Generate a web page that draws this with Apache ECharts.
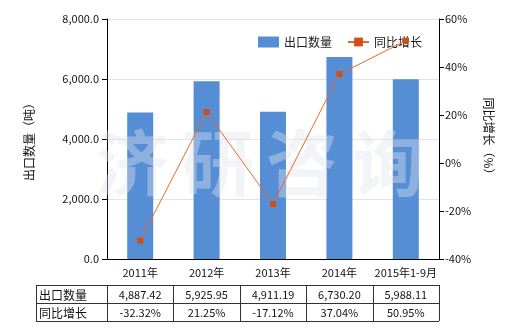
<!DOCTYPE html>
<html><head><meta charset="utf-8">
<script src="https://cdn.jsdelivr.net/npm/echarts@6/dist/echarts.min.js"></script>
<style>html,body{margin:0;padding:0;background:#fff}#c{width:520px;height:330px}</style>
</head><body><div id="c"></div>
<script>
const categories = ['2011年', '2012年', '2013年', '2014年', '2015年1-9月'];
const exportQty = [4887.42, 5925.95, 4911.19, 6730.20, 5988.11];
const yoyGrowth = [-32.32, 21.25, -17.12, 37.04, 50.95];
const seriesNames = ['出口数量', '同比增长'];
const leftAxisName = '出口数量（吨）';
const rightAxisName = '同比增长（%）';
const watermarkChars = ['济', '研', '咨', '询'];

const FONT = '"Noto Sans CJK SC", "DejaVu Sans", sans-serif';
const chart = echarts.init(document.getElementById('c'));
const fmtQty = v => v.toLocaleString('en-US', {minimumFractionDigits: 2, maximumFractionDigits: 2});
const fmtAxis = v => v.toLocaleString('en-US', {minimumFractionDigits: 1, maximumFractionDigits: 1});

chart.setOption({
  animation: false,
  textStyle: {fontFamily: FONT},
  grid: {left: 107, right: 81, top: 19, bottom: 71},
  legend: {
    left: 253, top: 31, itemWidth: 21, itemHeight: 11, itemGap: 15,
    textStyle: {fontSize: 12, color: '#222', fontFamily: FONT},
    data: [{name: seriesNames[0], icon: 'rect'}, {name: seriesNames[1]}]
  },
  xAxis: {
    type: 'category', data: categories,
    axisLine: {lineStyle: {color: '#000'}},
    axisTick: {alignWithLabel: true, length: 5, lineStyle: {color: '#000'}},
    axisLabel: {color: '#111', fontSize: 11, margin: 8, interval: 0}
  },
  yAxis: [{
    type: 'value', min: 0, max: 8000, interval: 2000,
    name: leftAxisName, nameLocation: 'middle', nameRotate: 90, nameGap: 72,
    nameTextStyle: {fontSize: 12, color: '#111'},
    axisLine: {show: true, lineStyle: {color: '#000'}},
    axisTick: {show: true, length: 5, lineStyle: {color: '#000'}},
    axisLabel: {color: '#111', fontSize: 11, formatter: fmtAxis, margin: 8},
    splitLine: {lineStyle: {color: '#e3e3e3'}}
  }, {
    type: 'value', min: -40, max: 60, interval: 20,
    name: rightAxisName, nameLocation: 'middle', nameRotate: -90, nameGap: 44,
    nameTextStyle: {fontSize: 12, color: '#111'},
    axisLine: {show: true, lineStyle: {color: '#000'}},
    axisTick: {show: true, length: 5, lineStyle: {color: '#000'}},
    axisLabel: {color: '#111', fontSize: 11, formatter: '{value}%', margin: 6},
    splitLine: {show: false}
  }],
  series: [{
    name: seriesNames[0], type: 'bar', data: exportQty, barWidth: 26,
    itemStyle: {color: '#558ed5'}, z: 2
  }, {
    name: seriesNames[1], type: 'line', yAxisIndex: 1, data: yoyGrowth,
    symbol: 'rect', symbolSize: 6,
    lineStyle: {color: '#e8692a', width: 1},
    itemStyle: {color: '#cf4f17'}, z: 10
  }]
});

const g = [];
const wmX = [132, 218, 302, 388];
watermarkChars.forEach((ch, i) => {
  g.push({type: 'text', z: 5, silent: true, x: wmX[i], y: 163,
    style: {text: ch, font: 'bold 72px ' + FONT, fill: 'rgba(225,228,235,0.4)', align: 'center', verticalAlign: 'middle'}});
});
const xs = categories.map(c => chart.convertToPixel({xAxisIndex: 0}, c));
const band = xs.length > 1 ? xs[1] - xs[0] : 66;
const tLeft = 36, tTop = 285, rowH = [18, 18];
const tRight = xs[xs.length - 1] + band / 2;
const tBottom = tTop + rowH[0] + rowH[1];
const line = (x1, y1, x2, y2) => g.push({type: 'line', z: 20, shape: {x1, y1, x2, y2}, style: {stroke: '#333', lineWidth: 1}});
line(tLeft, tTop + .5, tRight, tTop + .5);
line(tLeft, tTop + rowH[0] + .5, tRight, tTop + rowH[0] + .5);
line(tLeft, tBottom + .5, tRight, tBottom + .5);
line(tLeft + .5, tTop, tLeft + .5, tBottom);
xs.forEach(x => line(Math.round(x - band / 2) + .5, tTop, Math.round(x - band / 2) + .5, tBottom));
line(Math.round(tRight) + .5, tTop, Math.round(tRight) + .5, tBottom);
const rows = [exportQty.map(fmtQty), yoyGrowth.map(v => v.toFixed(2) + '%')];
rows.forEach((r, ri) => {
  const cy = tTop + rowH[0] * ri + rowH[ri] / 2 + 1;
  g.push({type: 'text', z: 20, x: tLeft + 3, y: cy, style: {text: seriesNames[ri], font: '12px ' + FONT, fill: '#111', verticalAlign: 'middle'}});
  r.forEach((t, i) => g.push({type: 'text', z: 20, x: xs[i], y: cy, style: {text: t, font: '11px ' + FONT, fill: '#111', align: 'center', verticalAlign: 'middle'}}));
});
chart.setOption({graphic: g});
</script></body></html>
